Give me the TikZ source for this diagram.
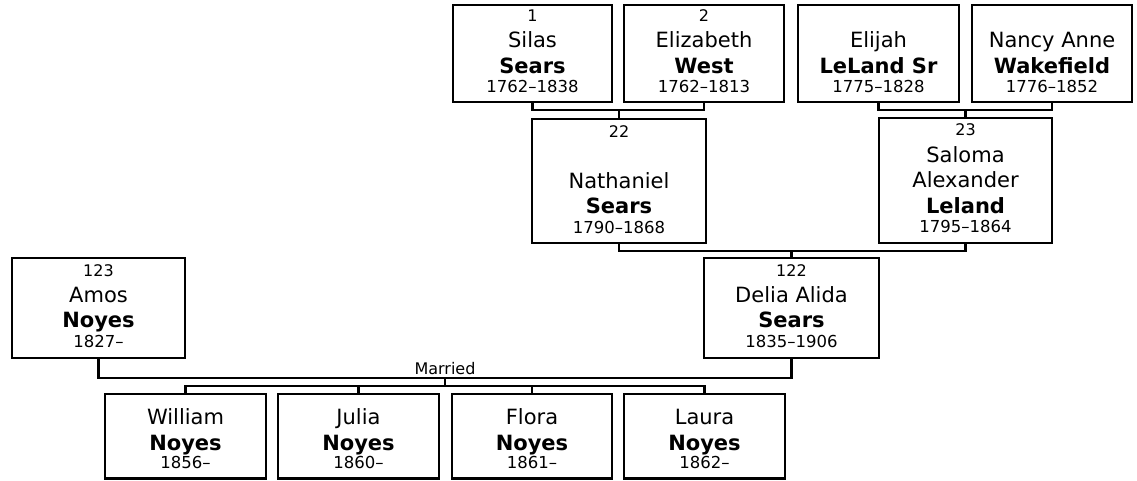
\documentclass[tikz,border=0pt]{standalone}
\usepackage{fontspec}
\setmainfont{DejaVu Sans}
\begin{document}
\begin{tikzpicture}[x=1pt,y=-1pt,
  box/.style={draw, line width=2.5pt, inner sep=0pt, outer sep=0pt},
  link/.style={line width=2.5pt},
  num/.style={anchor=base, inner sep=0pt, font=\fontsize{16}{18}\selectfont},
  nm/.style={anchor=base, inner sep=0pt, font=\fontsize{21}{24}\selectfont},
  bnm/.style={anchor=base, inner sep=0pt, font=\bfseries\fontsize{21}{24}\selectfont},
  dt/.style={anchor=base, inner sep=0pt, font=\fontsize{16.5}{19}\selectfont},
  lbl/.style={anchor=base, inner sep=0pt, font=\fontsize{16}{18}\selectfont}]
\useasboundingbox[fill=white] (0,0) rectangle (1137,480);
\newcommand\pbox[5]{\node[box, minimum width={#4-#2}, minimum height={#5-#3}] (#1) at ({(#2+#4)/2},{(#3+#5)/2}) {};}
% boxes
\pbox{silas}{453}{5}{612}{102}
\pbox{eliz}{624}{5}{784}{102}
\pbox{elijah}{798}{5}{959}{102}
\pbox{nancy}{972}{5}{1132}{102}
\pbox{nath}{532}{119}{706}{243}
\pbox{saloma}{879}{118}{1052}{243}
\pbox{delia}{704}{258}{879}{358}
\pbox{amos}{12}{258}{185}{358}
\pbox{william}{105}{394}{266}{478.5}
\pbox{julia}{278}{394}{439}{478.5}
\pbox{flora}{452}{394}{612}{478.5}
\pbox{laura}{624}{394}{785}{478.5}
% texts
\node[num] (silas1) at (532.5,21) {1};
\node[nm]  (silas2) at (532.5,47) {Silas};
\node[bnm] (silas3) at (532.5,73) {Sears};
\node[dt]  (silas4) at (532.5,92) {1762–1838};
\node[num] (eliz1) at (704,21) {2};
\node[nm]  (eliz2) at (704,47) {Elizabeth};
\node[bnm] (eliz3) at (704,73) {West};
\node[dt]  (eliz4) at (704,92) {1762–1813};
\node[nm]  (elijah2) at (878.5,47) {Elijah};
\node[bnm] (elijah3) at (878.5,73) {LeLand Sr};
\node[dt]  (elijah4) at (878.5,92) {1775–1828};
\node[nm]  (nancy2) at (1052,47) {Nancy Anne};
\node[bnm] (nancy3) at (1052,73) {Wakefield};
\node[dt]  (nancy4) at (1052,92) {1776–1852};
\node[num] (nath1) at (619,137) {22};
\node[nm]  (nath2) at (619,188) {Nathaniel};
\node[bnm] (nath3) at (619,213) {Sears};
\node[dt]  (nath4) at (619,233) {1790–1868};
\node[num] (sal1) at (965.5,135) {23};
\node[nm]  (sal2) at (965.5,162) {Saloma};
\node[nm]  (sal3) at (965.5,187) {Alexander};
\node[bnm] (sal4) at (965.5,213) {Leland};
\node[dt]  (sal5) at (965.5,232) {1795–1864};
\node[num] (delia1) at (791.5,276) {122};
\node[nm]  (delia2) at (791.5,302) {Delia Alida};
\node[bnm] (delia3) at (791.5,327) {Sears};
\node[dt]  (delia4) at (791.5,347) {1835–1906};
\node[num] (amos1) at (98.5,276) {123};
\node[nm]  (amos2) at (98.5,302) {Amos};
\node[bnm] (amos3) at (98.5,327) {Noyes};
\node[dt]  (amos4) at (98.5,347) {1827–};
\node[nm]  (will2) at (185.5,424) {William};
\node[bnm] (will3) at (185.5,450) {Noyes};
\node[dt]  (will4) at (185.5,468) {1856–};
\node[nm]  (jul2) at (358.5,424) {Julia};
\node[bnm] (jul3) at (358.5,450) {Noyes};
\node[dt]  (jul4) at (358.5,468) {1860–};
\node[nm]  (flo2) at (532,424) {Flora};
\node[bnm] (flo3) at (532,450) {Noyes};
\node[dt]  (flo4) at (532,468) {1861–};
\node[nm]  (lau2) at (704.5,424) {Laura};
\node[bnm] (lau3) at (704.5,450) {Noyes};
\node[dt]  (lau4) at (704.5,468) {1862–};
% connectors
\coordinate (c1) at (619,110);
\draw[link] (silas.south) |- (c1) -| (eliz.south);
\draw[link] (c1) -- (nath.north);
\coordinate (c2) at (965.5,110);
\draw[link] (elijah.south) |- (c2) -| (nancy.south);
\draw[link] (c2) -- (saloma.north);
\coordinate (c3) at (791.5,251);
\draw[link] (nath.south) |- (c3) -| (saloma.south);
\draw[link] (c3) -- (delia.north);
\coordinate (c4) at (445,378);
\draw[link] (amos.south) |- (c4) -| (delia.south);
\node[lbl] (married) at (445,374.5) {Married};
\coordinate (c5) at (445,386);
\draw[link] (c4) -- (c5);
\draw[link] (william.north) |- (c5) -| (laura.north);
\draw[link] (julia.north) -- (julia.north |- c5);
\draw[link] (flora.north) -- (flora.north |- c5);
\end{tikzpicture}
\end{document}
